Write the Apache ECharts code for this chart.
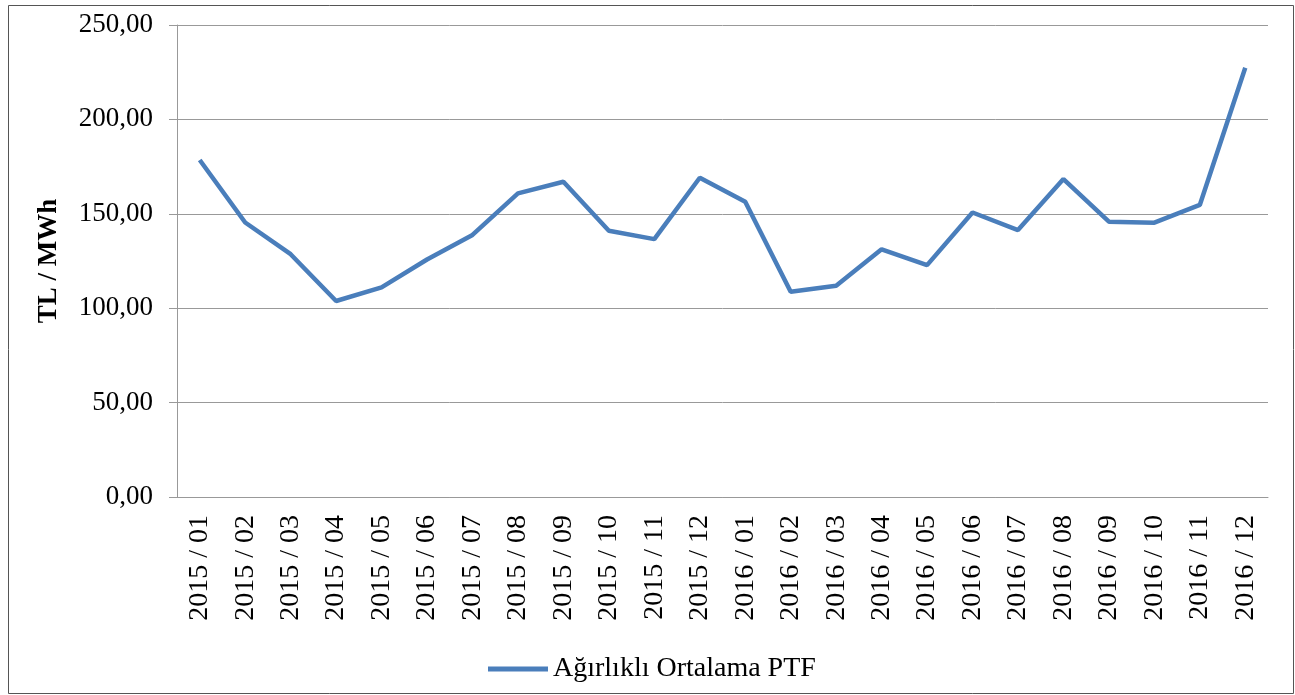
<!DOCTYPE html>
<html>
<head>
<meta charset="utf-8">
<script src="https://cdn.jsdelivr.net/npm/echarts@6/dist/echarts.min.js"></script>
<style>
  html, body { margin: 0; padding: 0; background: #fff; }
  #chart { width: 1295px; height: 695px; }
</style>
</head>
<body>
<div id="chart"></div>
<script>
// aylar
var months = ['2015 / 01','2015 / 02','2015 / 03','2015 / 04','2015 / 05','2015 / 06',
              '2015 / 07','2015 / 08','2015 / 09','2015 / 10','2015 / 11','2015 / 12',
              '2016 / 01','2016 / 02','2016 / 03','2016 / 04','2016 / 05','2016 / 06',
              '2016 / 07','2016 / 08','2016 / 09','2016 / 10','2016 / 11','2016 / 12'];
// ağırlıklı ortalama PTF (TL/MWh)
var ptf = [178.5, 145.4, 128.6, 103.8, 111.0, 125.8,
           138.8, 160.8, 167.0, 141.0, 136.6, 169.1,
           156.4, 108.7, 111.9, 131.2, 122.8, 150.7,
           141.4, 168.4, 145.8, 145.3, 154.7, 227.4];
var seriesName = 'Ağırlıklı Ortalama PTF';

var font = 'Liberation Serif, Times New Roman, serif';
var myChart = echarts.init(document.getElementById('chart'));
var option = {
    animation: false,
    textStyle: { fontFamily: font },
    graphic: [{
        type: 'rect',
        shape: { x: 8.5, y: 5.5, width: 1285, height: 688 },
        style: { fill: 'none', stroke: '#555', lineWidth: 1 },
        silent: true
    }],
    grid: { left: 177, top: 25, right: 27, bottom: 198 },
    legend: {
        data: [seriesName],
        left: 483, top: 650,
        icon: 'rect', itemWidth: 60, itemHeight: 5, itemGap: 6,
        textStyle: { fontFamily: font, fontSize: 28, color: '#000' }
    },
    xAxis: {
        type: 'category',
        data: months,
        axisLine: { lineStyle: { color: '#999' } },
        axisTick: { length: 8, lineStyle: { color: '#999' } },
        axisLabel: { rotate: 90, margin: 18, fontFamily: font, fontSize: 28, color: '#000' }
    },
    yAxis: {
        type: 'value',
        min: 0, max: 250, interval: 50,
        name: 'TL / MWh',
        nameLocation: 'middle',
        nameGap: 114,
        nameTextStyle: { fontFamily: font, fontSize: 27, fontWeight: 'bold', color: '#000' },
        axisLine: { show: true, lineStyle: { color: '#999' } },
        axisTick: { show: true, length: 8, lineStyle: { color: '#999' } },
        splitLine: { lineStyle: { color: '#999' } },
        axisLabel: {
            margin: 24, fontFamily: font, fontSize: 27, color: '#000',
            formatter: function (v) { return v.toFixed(2).replace('.', ','); }
        }
    },
    series: [{
        name: seriesName,
        type: 'line',
        data: ptf,
        symbol: 'none',
        itemStyle: { color: '#4a7ebb' },
        lineStyle: { color: '#4a7ebb', width: 4.5 }
    }]
};
myChart.setOption(option);
</script>
</body>
</html>
